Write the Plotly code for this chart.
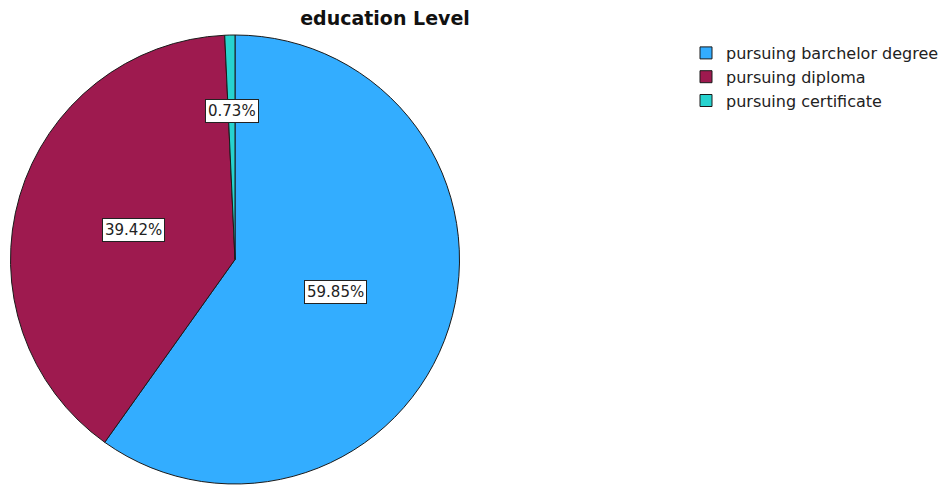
import math
import plotly.graph_objects as go

# ---- data ----
categories = ["pursuing barchelor degree", "pursuing diploma", "pursuing certificate"]
counts = [82, 54, 1]
colors = ["#33ADFF", "#9E1A4F", "#27D3CF"]
title_text = "education Level"

W, H = 946, 485
# pie placement (pixels)
pie_left, pie_right = 10, 460
pie_top, pie_bottom = 35, 484

fig = go.Figure(go.Pie(
    labels=categories,
    values=counts,
    sort=False,
    direction="clockwise",
    rotation=0,
    marker=dict(colors=colors, line=dict(color="#1a1a1a", width=1)),
    textinfo="none",
    hoverinfo="label+percent",
    domain=dict(x=[pie_left / W, pie_right / W], y=[1 - pie_bottom / H, 1 - pie_top / H]),
))

# percentage labels with boxes, placed from the data's angles
total = sum(counts)
cx = (pie_left + pie_right) / 2
cy = (pie_top + pie_bottom) / 2
R = min(pie_right - pie_left, pie_bottom - pie_top) / 2
cum = 0
for c in counts:
    frac = c / total
    mid = (cum + frac / 2) * 2 * math.pi
    cum += frac
    rf = 0.47 if frac > 0.1 else 0.66
    px = cx + rf * R * math.sin(mid)
    py = cy - rf * R * math.cos(mid)
    fig.add_annotation(
        x=px / W, y=1 - py / H, xref="paper", yref="paper",
        xanchor="center", yanchor="middle",
        text=f"{frac * 100:.2f}%", showarrow=False,
        font=dict(family="DejaVu Sans", size=15, color="#222"),
        bgcolor="white", bordercolor="#222", borderwidth=1, borderpad=2,
    )

fig.update_layout(
    width=W, height=H,
    margin=dict(l=0, r=0, t=0, b=0),
    paper_bgcolor="white",
    title=dict(text=f"<b>{title_text}</b>", x=385 / W, xanchor="center",
               y=1 - 18 / H, yanchor="middle", yref="container",
               font=dict(family="DejaVu Sans", size=19, color="#111")),
    showlegend=True,
    legend=dict(x=686 / W, y=1 - 36 / H, xanchor="left", yanchor="top",
                font=dict(family="DejaVu Sans", size=16, color="#222"),
                bgcolor="rgba(0,0,0,0)", traceorder="normal"),
)

fig.write_html("out.html")
